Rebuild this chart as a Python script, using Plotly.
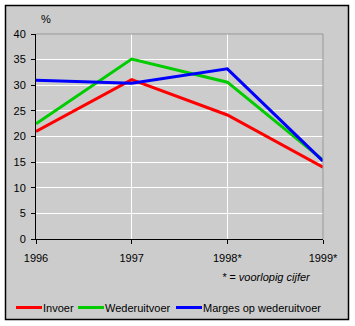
import plotly.graph_objects as go

# Jaarlijkse procentuele veranderingen
years = [1996, 1997, 1998, 1999]
year_labels = ["1996", "1997", "1998*", "1999*"]

invoer = [21.0, 31.1, 24.2, 14.0]
wederuitvoer = [22.5, 35.1, 30.6, 15.4]
marges = [31.0, 30.4, 33.2, 15.2]

series_names = ["Invoer", "Wederuitvoer", "Marges op wederuitvoer"]
series_values = [invoer, wederuitvoer, marges]
series_colors = ["#ff0000", "#00cc00", "#0000ff"]

y_ticks = [0, 5, 10, 15, 20, 25, 30, 35, 40]

FONT = "Liberation Sans, Arial, sans-serif"
BG = "#cccccc"

# plot area geometry (pixels) used to place paper-referenced decorations
W, H = 355, 326
L, R, T, B = 36, 32, 34, 87
PW, PH = W - L - R, H - T - B


def px_x(x):
    return (x - L) / PW


def px_y(y):
    return (H - B - y) / PH


fig = go.Figure()
for name, vals, col in zip(series_names, series_values, series_colors):
    fig.add_trace(go.Scatter(
        x=years, y=vals, name=name, mode="lines",
        line=dict(color=col, width=3), showlegend=False,
    ))

shapes = [
    # grey panel with black frame
    dict(type="rect", xref="paper", yref="paper", layer="below",
         x0=px_x(5.5), x1=px_x(348.5), y0=px_y(319.5), y1=px_y(5.5),
         fillcolor=BG, line=dict(color="black", width=1.5)),
    # grey top and right edges of the plot area
    dict(type="line", xref="paper", yref="paper", layer="above",
         x0=0, x1=1, y0=1, y1=1, line=dict(color="#999999", width=1)),
    dict(type="line", xref="paper", yref="paper", layer="above",
         x0=1, x1=1, y0=0, y1=1, line=dict(color="#999999", width=1)),
]

annotations = [
    dict(text="%", xref="paper", yref="paper", x=px_x(46), y=px_y(19),
         xanchor="center", yanchor="middle", showarrow=False,
         font=dict(family=FONT, size=11, color="black")),
    dict(text="<i>* = voorlopig cijfer</i>", xref="paper", yref="paper",
         x=px_x(266), y=px_y(277), xanchor="center", yanchor="middle",
         showarrow=False, font=dict(family=FONT, size=11, color="black")),
]

# legend row: short coloured line followed by the series name
legend_x = [16, 78, 176]
for name, col, lx in zip(series_names, series_colors, legend_x):
    shapes.append(dict(type="line", xref="paper", yref="paper",
                       x0=px_x(lx), x1=px_x(lx + 26),
                       y0=px_y(307.5), y1=px_y(307.5),
                       line=dict(color=col, width=3)))
    annotations.append(dict(text=name, xref="paper", yref="paper",
                            x=px_x(lx + 25), y=px_y(307.5),
                            xanchor="left", yanchor="middle",
                            showarrow=False,
                            font=dict(family=FONT, size=11, color="black")))

fig.update_layout(
    width=W, height=H,
    margin=dict(l=L, r=R, t=T, b=B),
    paper_bgcolor="white",
    plot_bgcolor=BG,
    font=dict(family=FONT, size=11, color="black"),
    shapes=shapes,
    annotations=annotations,
    xaxis=dict(
        range=[1996, 1999], tickvals=years, ticktext=year_labels,
        showgrid=True, gridcolor="white", gridwidth=1,
        showline=True, linecolor="black", linewidth=1,
        ticks="outside", ticklen=4, tickcolor="black",
        ticklabelstandoff=5,
        zeroline=False, fixedrange=True,
    ),
    yaxis=dict(
        range=[0, 40], tickvals=y_ticks,
        showgrid=True, gridcolor="white", gridwidth=1,
        showline=True, linecolor="black", linewidth=1,
        ticks="outside", ticklen=4, tickcolor="black",
        ticklabelstandoff=3,
        zeroline=False, fixedrange=True,
    ),
)

fig.write_html("out.html", config={"displayModeBar": False})
